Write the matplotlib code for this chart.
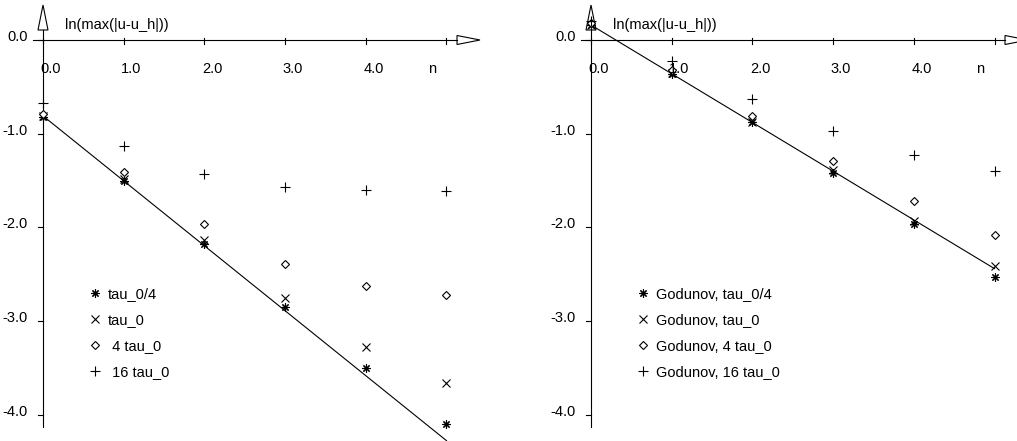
import matplotlib.pyplot as plt
import numpy as np
from matplotlib.patches import Polygon

plt.rcParams['font.family'] = ['Liberation Sans', 'DejaVu Sans']

n = [0, 1, 2, 3, 4, 5]
xticks = [0, 1, 2, 3, 4, 5]
xtick_labels = ['0.0', '1.0', '2.0', '3.0', '4.0', '']
yticks = [0, -1, -2, -3, -4]
ytick_labels = ['0.0', '-1.0', '-2.0', '-3.0', '-4.0']

# left panel
left_q = [-0.82, -1.50, -2.18, -2.85, -3.50, -4.10]
left_t = [-0.81, -1.48, -2.13, -2.75, -3.28, -3.66]
left_4 = [-0.79, -1.41, -1.96, -2.39, -2.63, -2.72]
left_16 = [-0.67, -1.13, -1.43, -1.57, -1.60, -1.61]
left_labels = ['tau_0/4', 'tau_0', ' 4 tau_0', ' 16 tau_0']
left_fit = (-0.81, -np.log(2))

# right panel
right_q = [0.16, -0.36, -0.88, -1.42, -1.96, -2.53]
right_t = [0.16, -0.35, -0.87, -1.39, -1.93, -2.41]
right_4 = [0.18, -0.32, -0.81, -1.29, -1.72, -2.08]
right_16 = [0.20, -0.22, -0.63, -0.97, -1.23, -1.40]
right_labels = ['Godunov, tau_0/4', 'Godunov, tau_0', 'Godunov, 4 tau_0', 'Godunov, 16 tau_0']
right_fit = (0.16, -0.52)

W, H = 1017, 441
PX = 80.7   # pixels per unit n
PY = 93.7   # pixels per unit y
Y0 = 40     # pixel row of y = 0
FS = 10.5

fig = plt.figure(figsize=(W / 100, H / 100), dpi=100)

markers = [dict(marker=(8, 2, 0), ms=6, mew=0.8),
           dict(marker='x', ms=6, mew=0.8),
           dict(marker='D', ms=4, mew=0.8, mfc='white'),
           dict(marker='+', ms=6.5, mew=0.8)]


def panel(x0, x1, xorig, series, labels, fit, leg_xy, arrow_right):
    ax = fig.add_axes([x0 / W, 0, (x1 - x0) / W, 1])
    ax.set_xlim((x0 - xorig) / PX, (x1 - xorig) / PX)
    ax.set_ylim(-(H - Y0) / PY, Y0 / PY)
    ax.axis('off')
    dx = 1 / PX
    dy = 1 / PY
    lw = 0.8
    # axes lines
    ax.plot([-10 * dx, (arrow_right - 23 - xorig) * dx], [0, 0], color='black', lw=lw)
    ax.plot([0, 0], [-(427 - Y0) * dy, (Y0 - 30) * dy], color='black', lw=lw)
    # arrow heads
    xb = (arrow_right - 23 - xorig) * dx
    xt = (arrow_right - xorig) * dx
    ax.add_patch(Polygon([[xb, 4.5 * dy], [xt, 0], [xb, -4.5 * dy]], closed=True,
                         fc='white', ec='black', lw=lw, clip_on=False))
    ax.add_patch(Polygon([[-5 * dx, (Y0 - 30) * dy], [0, (Y0 - 5) * dy],
                          [5 * dx, (Y0 - 30) * dy]], closed=True,
                         fc='white', ec='black', lw=lw, clip_on=False))
    # ticks
    for t, lab in zip(xticks, xtick_labels):
        ax.plot([t, t], [2 * dy, -4 * dy], color='black', lw=lw)
        ax.text(t - 2.5 * dx, -29 * dy, lab, ha='left', va='center', fontsize=FS)
    for t, lab in zip(yticks, ytick_labels):
        ax.plot([-5 * dx, 0], [t, t], color='black', lw=lw)
        ax.text(-15 * dx, t + 3 * dy, lab, ha='right', va='center', fontsize=FS)
    ax.text(4.82, -29 * dy, 'n', ha='center', va='center', fontsize=FS)
    ax.text(22 * dx, 15 * dy, 'ln(max(|u-u_h|))', ha='left', va='center', fontsize=FS)
    # fitted line
    nn = np.array([n[0], n[-1]])
    ax.plot(nn, fit[0] + fit[1] * nn, color='black', lw=lw)
    # data
    for vals, lab, m in zip(series, labels, markers):
        ax.plot(n, vals, ls='none', color='black', label=lab, **m)
    ax.legend(loc='upper left', bbox_to_anchor=(leg_xy[0] / W, 1 - leg_xy[1] / H),
              bbox_transform=fig.transFigure, frameon=False, fontsize=FS,
              handlelength=0.6, handletextpad=0.55, labelspacing=0.83,
              borderpad=0, borderaxespad=0)


panel(0, 508, 43, [left_q, left_t, left_4, left_16], left_labels, left_fit,
      (91, 287), 480)
panel(508, 1017, 591, [right_q, right_t, right_4, right_16], right_labels, right_fit,
      (639, 287), 1028)

fig.savefig('out.png', dpi=100)
